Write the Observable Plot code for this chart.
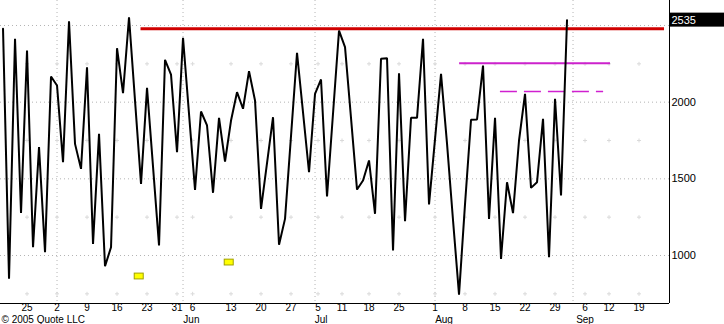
<!DOCTYPE html>
<html>
<head>
<meta charset="utf-8">
<script src="https://cdn.jsdelivr.net/npm/d3@7"></script>
<script src="https://cdn.jsdelivr.net/npm/@observablehq/plot@0.6"></script>
<style>
  html, body { margin: 0; padding: 0; background: #fff; }
  #chart { width: 724px; height: 324px; overflow: hidden; }
</style>
</head>
<body>
<div id="chart"></div>
<script>
// ---- data (trading-day index k, value) ----
const values = [
  2478, 848, 2413, 1278, 2337, 1054, 1707, 1022, 2167, 2109,
  1609, 2528, 1728, 1565, 2228, 1076, 1793, 930, 1054, 2352,
  2059, 2554, 2010, 1467, 2093, 1580, 1065, 2276, 2180, 1674,
  2420, 1924, 1428, 1939, 1848, 1409, 1898, 1613, 1880, 2065,
  1957, 2202, 2011, 1304, 1602, 1902, 1070, 1239, 1780, 2322,
  1933, 1543, 2054, 2148, 1385, 1926, 2467, 2359, 1896, 1430,
  1489, 1620, 1272, 2283, 2287, 1033, 2189, 1224, 1898, 1898,
  2413, 1333, 1759, 2185, 1730, 1230, 745, 1335, 1885, 1887,
  2239, 1239, 1898, 978, 1478, 1276, 1750, 2054, 1441, 1478,
  1891, 989, 2022, 1391, 2535
];
const weekTicks  = [4, 9, 14, 19, 24, 29, 31.6, 38, 43, 48, 52.5, 56.5, 61, 66, 72, 77, 82, 87, 92, 97, 101, 106];
const weekLabels = ["25","2","9","16","23","31","6","13","20","27","5","11","18","25","1","8","15","22","29","6","12","19"];
const monthTicks  = [31.4, 53, 73.5, 97];
const monthLabels = ["Jun", "Jul", "Aug", "Sep"];
const monthLines  = [9, 30, 52, 72, 95];
const gridLevels = [1000, 1500, 2000, 2500];
const yTickLabels = [1000, 1500, 2000];
const minorLevels = [750, 1250, 1750, 2250];
const xDomain = [-0.42, 111.08];
const yDomain = [687, 2663];
// horizontal reference lines
const redLevel = 2478, redFrom = 23, redTo = 110.25;
const magLevel = 2254, magFrom = 76.1, magTo = 101.25;
const dashLevel = 2070, dashFrom = 82.9, dashTo = 100.1;
// yellow event markers
const markerK = [22.7, 37.7];
const markerV = [863, 954];
const copyright = "\u00A9 2005 Quote LLC";

const series = values.map((v, k) => ({k, v}));
const lastValue = values[values.length - 1];
const gridDots = [];
for (const k of weekTicks) for (const v of minorLevels) gridDots.push({k, v});
const markers = markerK.map((k, i) => ({k, v: markerV[i]}));

const font = "'Liberation Sans', Arial, sans-serif";
const dotted = {stroke: "#b4b4b4", strokeDasharray: "1,3", strokeWidth: 1};

const chart = Plot.plot({
  width: 724,
  height: 324,
  marginLeft: 0,
  marginRight: 55,
  marginTop: 0,
  marginBottom: 21,
  x: {domain: xDomain, axis: null},
  y: {domain: yDomain, axis: null},
  style: {fontFamily: font, fontSize: "11px", background: "#fff", color: "#000"},
  marks: [
    Plot.ruleY(gridLevels, dotted),
    Plot.ruleX(monthLines, dotted),
    Plot.dot(gridDots, {x: "k", y: "v", symbol: "plus", r: 1.4, stroke: "#dadada", strokeWidth: 1}),
    Plot.ruleY([redLevel], {x1: redFrom, x2: redTo, stroke: "#d00000", strokeWidth: 3}),
    Plot.ruleY([magLevel], {x1: magFrom, x2: magTo, stroke: "#cc22cc", strokeWidth: 2}),
    Plot.ruleY([dashLevel], {x1: dashFrom, x2: dashTo, stroke: "#d020d0", strokeWidth: 1.5, strokeDasharray: "17,7"}),
    Plot.line(series, {x: "k", y: "v", stroke: "#000", strokeWidth: 2, strokeLinejoin: "miter"}),
    Plot.rect(markers, {x1: d => d.k - 0.75, x2: d => d.k + 0.75, y1: d => d.v - 19, y2: d => d.v + 19, fill: "#ffff00", stroke: "#a0a000", strokeWidth: 1}),
    Plot.ruleY([yDomain[0]], {stroke: "#000", strokeWidth: 1}),
    Plot.ruleX([xDomain[1]], {stroke: "#000", strokeWidth: 1}),
    Plot.axisY(yTickLabels, {anchor: "right", label: null, tickSize: 0, tickPadding: 2, tickFormat: d => String(d), fontSize: 11, fill: "#000"}),
    Plot.text(weekTicks, {x: d => d, text: (d, i) => weekLabels[i], frameAnchor: "bottom", lineAnchor: "top", dy: 0.5, fontSize: 10, fill: "#000"}),
    Plot.text(monthTicks, {x: d => d, text: (d, i) => monthLabels[i], frameAnchor: "bottom", lineAnchor: "top", dy: 12, fontSize: 10, fill: "#000"}),
    Plot.text([copyright], {frameAnchor: "bottom-left", textAnchor: "start", lineAnchor: "top", dx: 1, dy: 12, fontSize: 10, fill: "#000"}),
    Plot.text([lastValue], {x: () => xDomain[1], y: d => d, text: d => String(d), textAnchor: "start", dx: 2, fontSize: 11, fill: "#fff", className: "last-label"})
  ]
});

document.getElementById("chart").appendChild(chart);

// black box behind the last-value label
const xs = chart.scale("x"), ys = chart.scale("y");
const px = xs.apply(xDomain[1]);
const py = ys.apply(lastValue);
let labelG = chart.querySelector("g.last-label");
if (!labelG) {
  const t = Array.from(chart.querySelectorAll("text")).find(n => n.textContent === String(lastValue) && n.getAttribute("fill") === "#fff");
  labelG = t ? t.closest("g") : null;
}
const rect = document.createElementNS("http://www.w3.org/2000/svg", "rect");
rect.setAttribute("x", px);
rect.setAttribute("y", py - 7);
rect.setAttribute("width", 724 - px);
rect.setAttribute("height", 14);
rect.setAttribute("fill", "#000");
if (labelG && labelG.parentNode) labelG.parentNode.insertBefore(rect, labelG);
else chart.appendChild(rect);
</script>
</body>
</html>
